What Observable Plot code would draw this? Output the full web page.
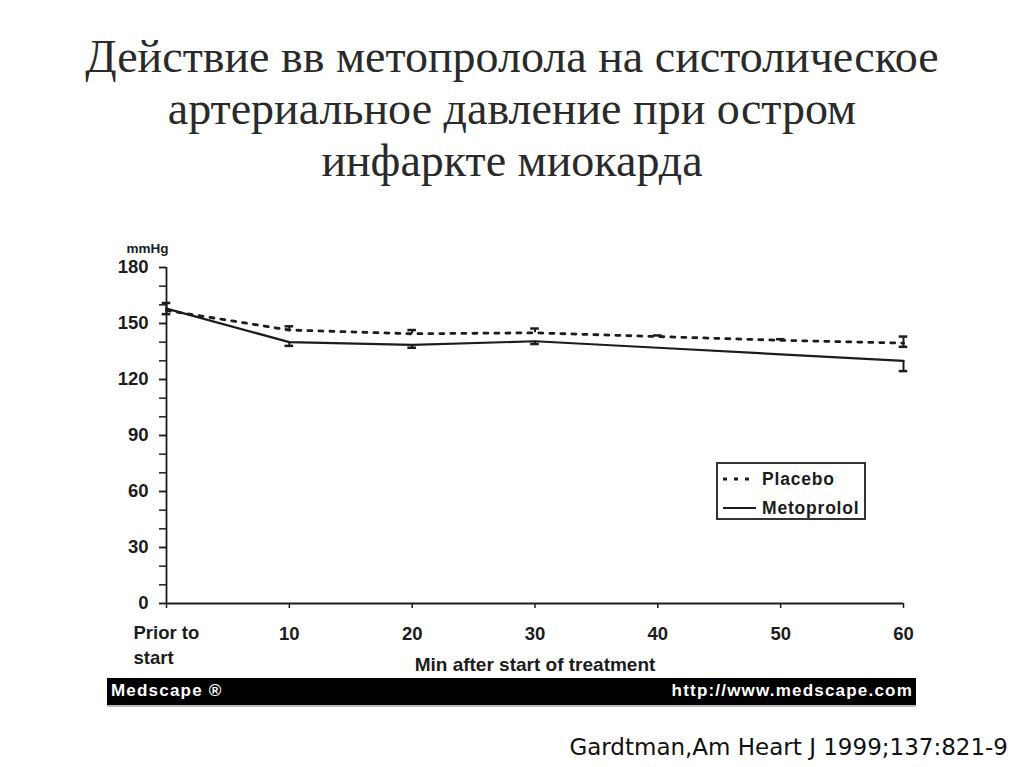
<!DOCTYPE html>
<html><head><meta charset="utf-8">
<script src="https://cdn.jsdelivr.net/npm/d3@7"></script>
<script src="https://cdn.jsdelivr.net/npm/@observablehq/plot@0.6"></script>
<style>
html,body{margin:0;padding:0;background:#fff;}
#page{position:relative;width:1024px;height:767px;overflow:hidden;background:#fff;}
#title{position:absolute;left:0;top:31px;width:1024px;text-align:center;font-family:"Liberation Serif","Times New Roman",serif;font-size:46px;line-height:52px;color:#2a2a2a;}
#chart{position:absolute;left:0;top:230px;}
#legend{position:absolute;left:716px;top:462px;width:146px;height:54px;border:2px solid #333;}
#bar{position:absolute;left:107px;top:678px;width:809px;height:27px;background:#000;box-shadow:0 2px 0 #bbb;font-family:"Liberation Sans",Arial,sans-serif;font-weight:bold;font-size:17px;color:#fff;letter-spacing:1.2px;}
#bar .l{position:absolute;left:4px;top:3px;}
#bar .r{position:absolute;right:3px;top:3px;}
#caption{position:absolute;right:16px;top:734px;font-family:"DejaVu Sans",Verdana,sans-serif;font-size:23px;color:#111;}
</style></head>
<body><div id="page">
<div id="title"></div>
<div id="chart"></div>
<div id="legend"></div>
<div id="bar"><span class="l"></span><span class="r"></span></div>
<div id="caption"></div>
</div>
<script>
const titleLines = ["Действие вв метопролола на систолическое", "артериальное давление при остром", "инфаркте миокарда"];
const timepoints = [0, 10, 20, 30, 40, 50, 60];
const xTickLabels = ["Prior to\nstart", "10", "20", "30", "40", "50", "60"];
const yTicks = [0, 30, 60, 90, 120, 150, 180];
const yMinorTicks = [0, 10, 20, 30, 40, 50, 60, 70, 80, 90, 100, 110, 120, 130, 140, 150, 160, 170, 180];
const placebo = [157, 146.5, 144.5, 145, 143, 141, 139.5];
const placeboErrUp = [4, 2, 2, 2.3, 0.6, 0.6, 3.5];
const placeboErrDown = [0, 0, 0, 0, 0, 0, 2];
const metoprolol = [158, 140, 138.5, 140.5, 137, 133.5, 130];
const metoprololErrDown = [3, 2, 1.5, 1.5, 0, 0, 5.5];
const seriesNames = ["Placebo", "Metoprolol"];
const yUnit = ["mmHg"];
const xAxisLabel = ["Min after start of treatment"];
const footerLeft = "Medscape ®";
const footerRight = "http://www.medscape.com";
const caption = "Gardtman,Am Heart J 1999;137:821-9";

document.getElementById("title").innerHTML = titleLines.join("<br>");
document.querySelector("#bar .l").textContent = footerLeft;
document.querySelector("#bar .r").textContent = footerRight;
document.getElementById("caption").textContent = caption;

const rows = timepoints.map((t, i) => ({
  t, label: xTickLabels[i],
  p: placebo[i], pUp: placeboErrUp[i], pDown: placeboErrDown[i],
  m: metoprolol[i], mDown: metoprololErrDown[i]
}));
const capHalf = 0.35;
const ink = "#1c1c1c";
const pRows = rows.filter(d => d.pUp > 0);
const pDownRows = rows.filter(d => d.pDown > 0);
const mRows = rows.filter(d => d.mDown > 0);

const chart = Plot.plot({
  width: 1024,
  height: 440,
  marginLeft: 166,
  marginRight: 121,
  marginTop: 37,
  marginBottom: 67,
  x: {domain: [0, 60], label: null},
  y: {domain: [0, 180], label: null},
  style: {fontFamily: "'Liberation Sans', Arial, sans-serif", color: ink, background: "transparent", overflow: "visible"},
  marks: [
    Plot.axisY({ticks: yMinorTicks, tickSize: 7, tickFormat: () => "", strokeWidth: 1.5}),
    Plot.axisY({ticks: yTicks, tickSize: 7, tickPadding: 11, fontSize: 18.5, fontWeight: "bold", strokeWidth: 1.5}),
    Plot.axisX({ticks: timepoints, tickSize: 5, tickFormat: () => "", strokeWidth: 1.5}),
    Plot.axisX({ticks: timepoints.slice(1), tickSize: 0, tickPadding: 23, fontSize: 18.5, fontWeight: "bold",
      tickFormat: d => xTickLabels[timepoints.indexOf(d)]}),
    Plot.text(rows.slice(0, 1), {x: "t", text: "label", frameAnchor: "bottom", dx: -33, dy: 18, textAnchor: "start",
      lineAnchor: "top", lineHeight: 1.35, fontSize: 18.5, fontWeight: "bold", fill: ink}),
    Plot.text(yUnit, {frameAnchor: "top-left", dx: -19, dy: -24, textAnchor: "middle", fontSize: 13.5, fontWeight: "bold", fill: ink}),
    Plot.text(xAxisLabel, {frameAnchor: "bottom", dy: 61, lineAnchor: "middle", fontSize: 19, fontWeight: "bold", fill: ink}),
    Plot.ruleX([0], {y1: 0, y2: 180, stroke: ink, strokeWidth: 1.8}),
    Plot.ruleY([0], {x1: 0, x2: 60, stroke: ink, strokeWidth: 1.8}),
    // placebo error bars
    Plot.ruleX(pRows, {x: "t", y1: d => d.p - d.pDown, y2: d => d.p + d.pUp, stroke: ink, strokeWidth: 2}),
    Plot.ruleY(pRows, {y: d => d.p + d.pUp, x1: d => d.t - capHalf, x2: d => d.t + capHalf, stroke: ink, strokeWidth: 2.5}),
    Plot.ruleY(pDownRows, {y: d => d.p - d.pDown, x1: d => d.t - capHalf, x2: d => d.t + capHalf, stroke: ink, strokeWidth: 2.5}),
    // metoprolol error bars
    Plot.ruleX(mRows, {x: "t", y1: d => d.m - d.mDown, y2: "m", stroke: ink, strokeWidth: 2}),
    Plot.ruleY(mRows, {y: d => d.m - d.mDown, x1: d => d.t - capHalf, x2: d => d.t + capHalf, stroke: ink, strokeWidth: 2.5}),
    // lines
    Plot.line(rows, {x: "t", y: "p", stroke: ink, strokeWidth: 2.8, strokeDasharray: "4 7"}),
    Plot.line(rows, {x: "t", y: "m", stroke: ink, strokeWidth: 2.2})
  ]
});
document.getElementById("chart").appendChild(chart);

// legend
const lg = d3.select("#legend").append("svg").attr("width", 146).attr("height", 54)
  .style("font-family", "'Liberation Sans', Arial, sans-serif");
const lgRows = [{name: seriesNames[0], dash: "4 7", y: 15}, {name: seriesNames[1], dash: null, y: 44}];
lgRows.forEach(r => {
  lg.append("line").attr("x1", 5).attr("x2", 38).attr("y1", r.y).attr("y2", r.y)
    .attr("stroke", ink).attr("stroke-width", r.dash ? 2.8 : 2.2).attr("stroke-dasharray", r.dash);
  lg.append("text").attr("x", 44).attr("y", r.y + 6).attr("font-size", 17.5).attr("font-weight", "bold")
    .attr("letter-spacing", 0.8).attr("fill", ink).text(r.name);
});
</script>
</body></html>
